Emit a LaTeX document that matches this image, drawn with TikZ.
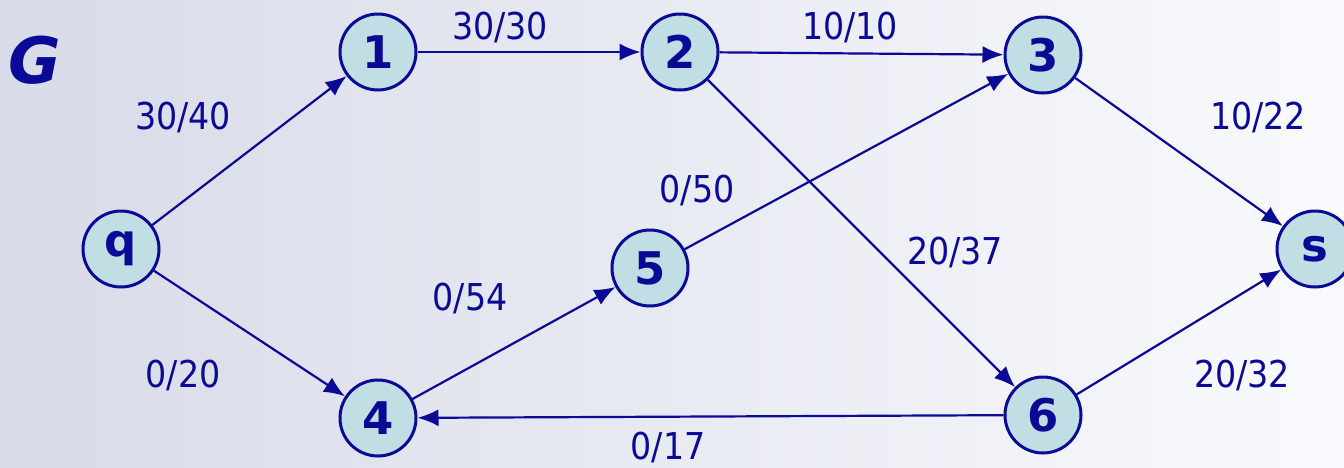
\documentclass[tikz,border=0pt]{standalone}
\usepackage{fontspec}
\setmainfont{DejaVu Sans Condensed}
\newfontfamily\nodefont{DejaVu Sans}
\usetikzlibrary{arrows.meta}
\definecolor{navy}{RGB}{10,10,150}
\definecolor{nfill}{RGB}{192,222,228}
\definecolor{bgl}{RGB}{216,219,232}
\definecolor{bgr}{RGB}{249,250,253}
\tikzset{
  vert/.style={circle,draw=navy,fill=nfill,line width=3pt,minimum size=76pt,inner sep=0pt,
    text=navy,font=\nodefont\bfseries\fontsize{45}{45}\selectfont},
  edge/.style={draw=navy,line width=2.2pt,-{Latex[length=21pt,width=17pt]}},
  lab/.style={text=navy,font=\fontsize{37}{37}\selectfont,inner sep=0pt}
}
\begin{document}
\begin{tikzpicture}[x=1pt,y=-1pt]
\shade[left color=bgl,right color=bgr] (0,0) rectangle (1344,467);
\useasboundingbox (0,0) rectangle (1344,467);
\node[text=navy,font=\nodefont\bfseries\itshape\fontsize{64}{64}\selectfont,inner sep=0pt] (G) at (35,60) {G};
\node[vert] (q) at (121,249) {q};
\node[vert] (n1) at (378,52) {1};
\node[vert] (n2) at (680,52) {2};
\node[vert] (n3) at (1043,55) {3};
\node[vert] (n5) at (650,268) {5};
\node[vert] (n4) at (378,418) {4};
\node[vert] (n6) at (1043,415) {6};
\node[vert] (s) at (1315,249) {s};
\draw[edge] (q) -- (n1);
\draw[edge] (n1) -- (n2);
\draw[edge] (n2) -- (n3);
\draw[edge] (q) -- (n4);
\draw[edge] (n4) -- (n5);
\draw[edge] (n5) -- (n3);
\draw[edge] (n2) -- (n6);
\draw[edge] (n3) -- (s);
\draw[edge] (n6) -- (s);
\draw[edge] (n6) -- (n4);
\node[lab] (l1) at (183,117) {30/40};
\node[lab] (l2) at (500,27) {30/30};
\node[lab] (l3) at (850,27) {10/10};
\node[lab] (l4) at (1258,117) {10/22};
\node[lab] (l5) at (697,190) {0/50};
\node[lab] (l6) at (955,252) {20/37};
\node[lab] (l7) at (470,298) {0/54};
\node[lab] (l8) at (183,375) {0/20};
\node[lab] (l9) at (1242,375) {20/32};
\node[lab] (l10) at (668,447) {0/17};
\end{tikzpicture}
\end{document}
